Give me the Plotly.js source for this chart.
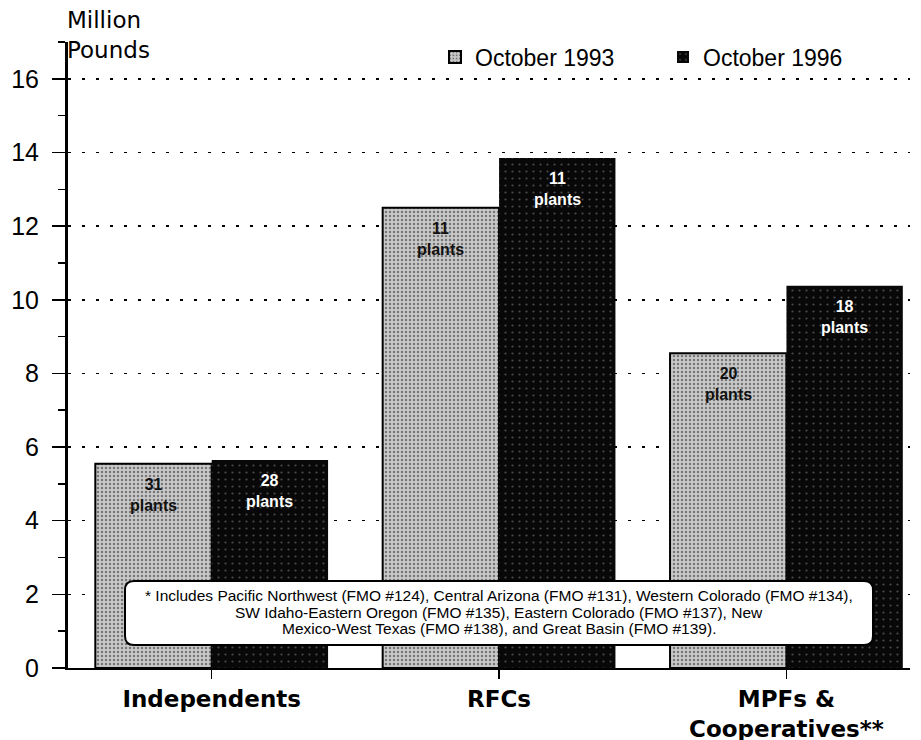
<!DOCTYPE html>
<html>
<head>
<meta charset="utf-8">
<script src="https://cdn.plot.ly/plotly-3.0.1.min.js"></script>
<style>html,body{margin:0;padding:0;background:#fff;}#chart{width:921px;height:740px;}</style>
</head>
<body>
<div id="chart"></div>
<script>
var categories = ["Independents", "RFCs", "MPFs &<br>Cooperatives**"];
var series1993 = [5.55, 12.5, 8.55];
var series1996 = [5.65, 13.85, 10.38];
var labels1993 = ["31<br>plants", "11<br>plants", "20<br>plants"];
var labels1996 = ["28<br>plants", "11<br>plants", "18<br>plants"];
var seriesNames = ["October 1993", "October 1996"];
var yTicks = [0, 2, 4, 6, 8, 10, 12, 14, 16];
var footnoteLines = [
  "* Includes Pacific Northwest (FMO #124), Central Arizona (FMO #131), Western Colorado (FMO #134),",
  "SW Idaho-Eastern Oregon (FMO #135), Eastern Colorado (FMO #137), New",
  "Mexico-West Texas (FMO #138), and Great Basin (FMO #139)."
];

var L = 68, R = 11, T = 42, B = 72, W = 921, H = 740;
var pw = W - L - R, ph = H - T - B;
function px2x(p){ return (p - L) / pw; }
function px2y(p){ return (H - B - p) / ph; }

var xRange = [-0.5, 2.43];
var barGap = 0.19;
// pixel offset of each bar centre from its category centre (derived from axis scale and bargap)
var catPx = pw / (xRange[1] - xRange[0]);
var barOffsetPx = catPx * (1 - barGap) / 4;

// rounded footnote box
var bx0 = px2x(125), bx1 = px2x(873), by0 = px2y(645), by1 = px2y(581);
var rx = 9 / pw, ry = 9 / ph;
var boxPath = "M" + (bx0 + rx) + "," + by1 +
  " L" + (bx1 - rx) + "," + by1 + " Q" + bx1 + "," + by1 + " " + bx1 + "," + (by1 - ry) +
  " L" + bx1 + "," + (by0 + ry) + " Q" + bx1 + "," + by0 + " " + (bx1 - rx) + "," + by0 +
  " L" + (bx0 + rx) + "," + by0 + " Q" + bx0 + "," + by0 + " " + bx0 + "," + (by0 + ry) +
  " L" + bx0 + "," + (by1 - ry) + " Q" + bx0 + "," + by1 + " " + (bx0 + rx) + "," + by1 + " Z";

var traces = [
  {
    type: "bar", name: seriesNames[0], x: categories, y: series1993,
    marker: {color: "#c4c4c4", line: {color: "#000", width: 2},
      pattern: {shape: ".", fgcolor: "#777", bgcolor: "#c9c9c9", size: 4, solidity: 0.3, fillmode: "replace"}},
    hoverinfo: "none"
  },
  {
    type: "bar", name: seriesNames[1], x: categories, y: series1996,
    marker: {color: "#080808", line: {color: "#000", width: 0},
      pattern: {shape: ".", fgcolor: "#4a4a4a", bgcolor: "#080808", size: 7, solidity: 0.08, fillmode: "replace"}},
    hoverinfo: "none"
  }
];

var annotations = [
  {xref: "paper", yref: "paper", x: px2x(65), y: px2y(5), xanchor: "left", yanchor: "top",
   text: "Million<br>Pounds", showarrow: false, align: "left",
   font: {family: "'DejaVu Sans', sans-serif", size: 23, color: "#000"}}
];
var lineY = [595, 612, 628];
footnoteLines.forEach(function(t, i){
  annotations.push({xref: "paper", yref: "paper", x: (bx0 + bx1) / 2, y: px2y(lineY[i]),
    xanchor: "center", yanchor: "middle", text: t, showarrow: false,
    font: {family: "Arial, 'Liberation Sans', sans-serif", size: 15.5, color: "#000"}});
});
// in-bar labels, anchored to each bar's value through the axes
[[series1993, labels1993, -1, "#111"], [series1996, labels1996, 1, "#fff"]].forEach(function(s){
  categories.forEach(function(c, i){
    annotations.push({xref: "x", yref: "y", x: c, y: s[0][i], xanchor: "center", yanchor: "top",
      xshift: s[2] * barOffsetPx, yshift: -10, text: s[1][i], showarrow: false,
      font: {family: "Arial, 'Liberation Sans', sans-serif", size: 16, color: s[3], weight: "bold"}});
  });
});

var layout = {
  width: W, height: H,
  margin: {l: L, r: R, t: T, b: B, pad: 0},
  paper_bgcolor: "#fff", plot_bgcolor: "#fff",
  barmode: "group", bargap: barGap, bargroupgap: 0,
  font: {family: "Arial, 'Liberation Sans', sans-serif", color: "#000"},
  showlegend: true,
  legend: {
    orientation: "h", x: px2x(435), xanchor: "left", y: px2y(57), yanchor: "middle",
    font: {family: "Arial, 'Liberation Sans', sans-serif", size: 23, color: "#000"},
    bgcolor: "rgba(0,0,0,0)", itemwidth: 30, tracegroupgap: 0,
    entrywidth: 183, entrywidthmode: "pixels", traceorder: "normal"
  },
  xaxis: {
    type: "category", range: xRange,
    showline: true, linecolor: "#000", linewidth: 2,
    ticks: "outside", ticklen: 9, tickwidth: 1.5, tickcolor: "#000",
    showgrid: false, zeroline: false,
    tickfont: {family: "'DejaVu Sans', sans-serif", size: 23, color: "#000", weight: "bold"},
    fixedrange: true
  },
  yaxis: {
    range: [0, 17], tickvals: yTicks,
    showline: true, linecolor: "#000", linewidth: 3,
    ticks: "outside", ticklen: 13, tickwidth: 1.5, tickcolor: "#000",
    ticklabelstandoff: 8,
    minor: {dtick: 1, ticks: "outside", ticklen: 7, tickcolor: "#000", tickwidth: 1.5, showgrid: false},
    showgrid: true, gridcolor: "#000", gridwidth: 1.5, griddash: "3px,11px",
    zeroline: false,
    tickfont: {family: "Arial, 'Liberation Sans', sans-serif", size: 25, color: "#000"},
    fixedrange: true
  },
  shapes: [
    {type: "path", xref: "paper", yref: "paper", path: boxPath, fillcolor: "#fff",
     line: {color: "#000", width: 2}, layer: "above"}
  ],
  annotations: annotations
};

Plotly.newPlot("chart", traces, layout, {displayModeBar: false, staticPlot: true});
</script>
</body>
</html>
